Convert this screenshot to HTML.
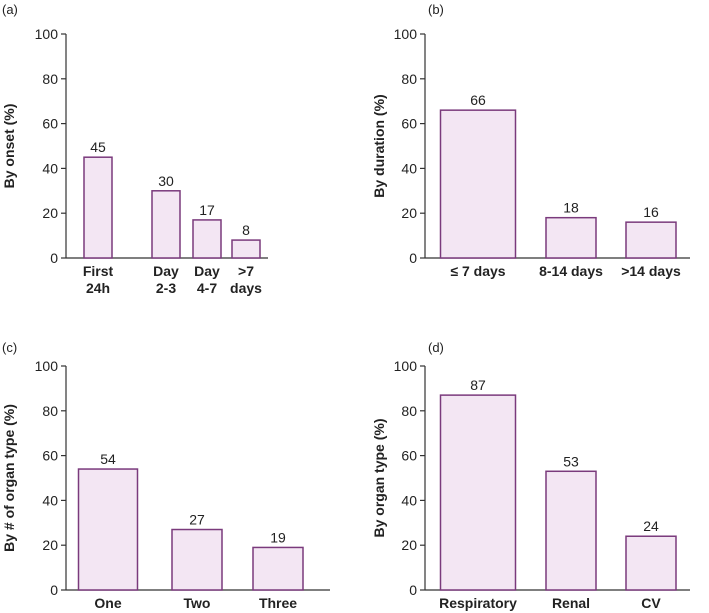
<!DOCTYPE html>
<html><head><meta charset="utf-8">
<style>
html,body{margin:0;padding:0;background:#fff;}
svg{display:block;font-family:"Liberation Sans",sans-serif;}
</style></head>
<body>
<svg id="chart" width="709" height="613" viewBox="0 0 709 613" xmlns="http://www.w3.org/2000/svg"></svg>
<script>
// Panel data
const onsetCategories = [["First","24h"],["Day","2-3"],["Day","4-7"],[">7","days"]];
const onsetValues = [45,30,17,8];
const durationCategories = [["≤ 7 days"],["8-14 days"],[">14 days"]];
const durationValues = [66,18,16];
const organCountCategories = [["One"],["Two"],["Three"]];
const organCountValues = [54,27,19];
const organTypeCategories = [["Respiratory"],["Renal"],["CV"]];
const organTypeValues = [87,53,24];
const yTickLabels = [0,20,40,60,80,100];

const NS="http://www.w3.org/2000/svg";
const svg=document.getElementById('chart');
function mk(tag,attrs,parent){const e=document.createElementNS(NS,tag);for(const k in attrs)e.setAttribute(k,attrs[k]);(parent||svg).appendChild(e);return e;}

const panels=[
 {id:'a',letter:'(a)',lx:2,ly:14,axisX:66,y0:258,y100:34,title:'By onset (%)',tx:14,cats:onsetCategories,vals:onsetValues,start:98,step:[0,68,109,148],bw:28,xEnd:268},
 {id:'b',letter:'(b)',lx:428,ly:14,axisX:425,y0:258,y100:34,title:'By duration (%)',tx:384,cats:durationCategories,vals:durationValues,start:478,step:[0,93,173],bw:50,xEnd:690,firstW:75},
 {id:'c',letter:'(c)',lx:2,ly:352,axisX:66,y0:590,y100:366,title:'By # of organ type (%)',tx:14,cats:organCountCategories,vals:organCountValues,start:108,step:[0,89,170],bw:50,xEnd:330,firstW:59},
 {id:'d',letter:'(d)',lx:428,ly:352,axisX:425,y0:590,y100:366,title:'By organ type (%)',tx:384,cats:organTypeCategories,vals:organTypeValues,start:478,step:[0,93,173],bw:50,xEnd:690,firstW:75}
];

panels.forEach(p=>{
 const g=mk('g',{});
 
 
 const yS=v=>p.y0+(p.y100-p.y0)*v/100;
 const xS=i=>p.start+p.step[i];
 const lt=mk('text',{x:p.lx,y:p.ly,'font-size':13,fill:'#222'},g);lt.textContent=p.letter;
 
 
 const ya=mk('line',{x1:p.axisX,x2:p.axisX,y1:p.y100,y2:p.y0,stroke:'#333','stroke-width':1.2},g);
 
 
 const xa=mk('line',{x1:p.axisX,x2:p.xEnd,y1:p.y0,y2:p.y0,stroke:'#333','stroke-width':1.2},g);
 
 
 yTickLabels.forEach(t=>{
  const y=yS(t);
  mk('line',{x1:p.axisX-5,x2:p.axisX,y1:y,y2:y,stroke:'#333','stroke-width':1.2},g);
  const tl=mk('text',{x:p.axisX-8,y:y+5,'font-size':14,'text-anchor':'end',fill:'#222'},g);
  tl.textContent=t;
  
  
 });
 const yt=mk('text',{x:p.tx,y:(p.y0+p.y100)/2,'font-size':14,'font-weight':'bold','text-anchor':'middle',fill:'#222',transform:`rotate(-90 ${p.tx} ${(p.y0+p.y100)/2})`},g);
 yt.textContent=p.title;
 
 
 p.vals.forEach((v,i)=>{
  const cx=xS(i);
  const w=(i===0&&p.firstW)?p.firstW:p.bw;
  const top=yS(v);
  const r=mk('rect',{x:cx-w/2,y:top,width:w,height:p.y0-top,fill:'#f3e6f3',stroke:'#7a3a7c','stroke-width':1.5},g);
  
  
  const vl=mk('text',{x:cx,y:top-5,'font-size':14,'text-anchor':'middle',fill:'#222'},g);
  vl.textContent=v;
  
  
  p.cats[i].forEach((line,j)=>{
   const cl=mk('text',{x:cx,y:p.y0+18+j*17,'font-size':14,'font-weight':'bold','text-anchor':'middle',fill:'#222'},g);
   cl.textContent=line;
   
   
  });
 });
});
</script>
</body></html>
